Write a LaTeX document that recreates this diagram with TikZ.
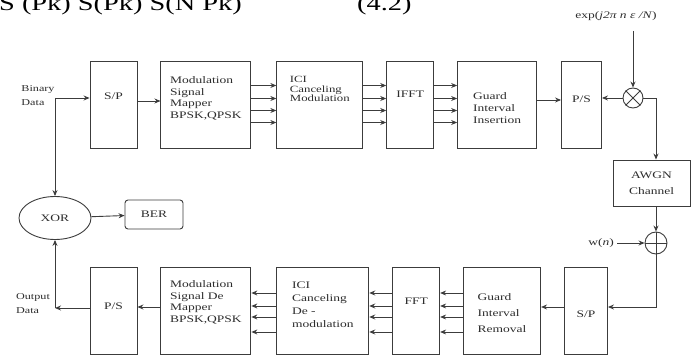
\documentclass[tikz,border=0pt]{standalone}
\usepackage{fontspec}
\setmainfont{Liberation Serif}[FakeStretch=1.35]
\usepackage{tikz}
\usetikzlibrary{shapes.geometric, arrows.meta, positioning, calc}
\definecolor{wiregray}{RGB}{60, 60, 60}
\definecolor{textgray}{RGB}{45, 45, 45}
% box text, lifted inside its box
\newcommand{\lift}[2]{\raisebox{#1}[\height][\depth]{\begin{tabular}{@{}l@{}}#2\end{tabular}}}

\begin{document}
\begin{tikzpicture}[
    x=1pt, y=-1pt,
    node distance=23pt,
    box/.style={rectangle, draw=wiregray, line width=0.9pt, text=textgray,
                minimum height=87pt, inner sep=1pt,
                font=\fontsize{10}{11.5}\selectfont},
    circ/.style={circle, draw=wiregray, line width=0.9pt, inner sep=0pt},
    lbl/.style={align=left, text=textgray, inner sep=1pt,
                font=\fontsize{9}{14}\selectfont},
    arr/.style={-{Stealth[length=6pt, width=5pt]}, line width=0.9pt, wiregray},
]
\useasboundingbox (0,0) rectangle (696,358);

% Equation line, cut at the top
\node[anchor=base west, inner sep=0pt, font=\fontsize{21}{21}\selectfont]
    (eqn) at (-1,10.5) {S (Pk) S(Pk) S(N Pk)};
\node[anchor=base west, inner sep=0pt, font=\fontsize{21}{21}\selectfont]
    (eqnum) at (357,10.5) {(4.2)};

% Transmitter
\node[box, minimum width=47pt] (sp1) at (113.5,104.5) {\lift{7.5pt}{S/P}};
\node[box, minimum width=90pt, right=of sp1] (map1)
    {\lift{6pt}{Modulation\\Signal\\Mapper\\BPSK,QPSK}};
\node[box, minimum width=86pt, right=25pt of map1,
      font=\fontsize{9.5}{9.5}\selectfont] (ici1)
    {\lift{14pt}{ICI\\Canceling\\Modulation}};
\node[box, minimum width=47pt, right=of ici1] (ifft) {\lift{9.5pt}{IFFT}};
\node[box, minimum width=79pt, right=of ifft,
      font=\fontsize{10}{12}\selectfont] (gi1)
    {\lift{-4.5pt}{Guard\\Interval\\Insertion}};
\node[box, minimum width=40pt, right=24pt of gi1] (ps1) {\lift{4.5pt}{P/S}};

% Channel
\node[circ, minimum size=20pt] (mult) at (633,98) {};
\node[text=textgray, font=\fontsize{10}{10}\selectfont] (expl) at (616,16)
    {exp(\textit{j2π n ε /N})};
\coordinate (expin) at (633,31);
\node[box, minimum width=77pt, minimum height=46pt, align=center,
      font=\fontsize{10}{16}\selectfont] (awgn) at (651.5,183) {AWGN\\Channel};
\node[circ, minimum size=22pt] (add) at (656,243) {};
\node[text=textgray, font=\fontsize{10}{10}\selectfont] (wn) at (601,243)
    {w(\textit{n})};

% Receiver
\node[box, minimum width=47pt] (ps2) at (113.5,311) {\lift{4pt}{P/S}};
\node[box, minimum width=90pt, right=of ps2] (map2)
    {\lift{8.5pt}{Modulation\\Signal De\\Mapper\\BPSK,QPSK}};
\node[box, minimum width=92pt, right=25pt of map2,
      font=\fontsize{10}{13}\selectfont] (ici2)
    {\lift{6pt}{ICI\\Canceling\\De -\\modulation}};
\node[box, minimum width=47pt, right=of ici2] (fft) {\lift{9pt}{FFT}};
\node[box, minimum width=77pt, right=of fft,
      font=\fontsize{10}{16}\selectfont] (gr)
    {\lift{-2pt}{Guard\\Interval\\Removal}};
\node[box, minimum width=43pt, right=of gr] (sp2) {\lift{-4pt}{S/P}};

% Data in and out, error count
\node[lbl] (binary) at (38,96) {Binary\\Data};
\node[lbl] (output) at (33,304) {Output\\Data};
\coordinate (split) at (55,98);
\coordinate (join) at (55,308);
\node[ellipse, draw=wiregray, line width=0.9pt, minimum width=72pt,
      minimum height=43pt, inner sep=0pt, text=textgray,
      font=\fontsize{10}{10}\selectfont] (xor) at (55,218) {XOR};
\node[box, minimum width=58pt, minimum height=29pt, rounded corners=3pt]
    (ber) at (154,214.5) {BER};

% Arrows
\draw[arr] (split) -- (split -| sp1.west);
\draw[arr] (split) -- (xor.north);
\draw[arr] ([yshift=3.5pt]sp1.east) -- ([yshift=3.5pt]map1.west);
\foreach \s in {19,6,-6,-18}
    \draw[arr] ([yshift=\s pt]map1.east) -- ([yshift=\s pt]ici1.west);
\foreach \s in {19,6,-6,-18}
    \draw[arr] ([yshift=\s pt]ici1.east) -- ([yshift=\s pt]ifft.west);
\foreach \s in {19,6,-6,-18}
    \draw[arr] ([yshift=\s pt]ifft.east) -- ([yshift=\s pt]gi1.west);
\draw[arr] ([yshift=4.5pt]gi1.east) -- ([yshift=4.5pt]ps1.west);
\draw[arr] (mult.west) -- (mult.west -| ps1.east);
\draw[arr] (expin) -- (mult.north);
\draw[wiregray, line width=0.9pt] (mult.north east) -- (mult.south west)
    (mult.north west) -- (mult.south east);
\draw[arr] (mult.east) -| (add |- awgn.north);
\draw[arr] (add |- awgn.south) -- (add.north);
\draw[wiregray, line width=0.9pt] (add.north) -- (add.south)
    (add.west) -- (add.east);
\draw[arr] (wn.east) -- (add.west);
\draw[arr] (add.south) |- ([yshift=4pt]sp2.east);
\draw[arr] ([yshift=4pt]sp2.west) -- ([yshift=4pt]gr.east);
\foreach \s in {18,5,-6,-21}
    \draw[arr] ([yshift=\s pt]gr.west) -- ([yshift=\s pt]fft.east);
\foreach \s in {18,5,-6,-21}
    \draw[arr] ([yshift=\s pt]fft.west) -- ([yshift=\s pt]ici2.east);
\foreach \s in {18,5,-6,-21}
    \draw[arr] ([yshift=\s pt]ici2.west) -- ([yshift=\s pt]map2.east);
\draw[arr] ([yshift=4pt]map2.west) -- ([yshift=4pt]ps2.east);
\draw[arr] ([yshift=3pt]ps2.west) -- (join);
\draw[arr] (join) -- (xor.south);
\draw[arr] (xor) -- (ber);

\end{tikzpicture}
\end{document}
